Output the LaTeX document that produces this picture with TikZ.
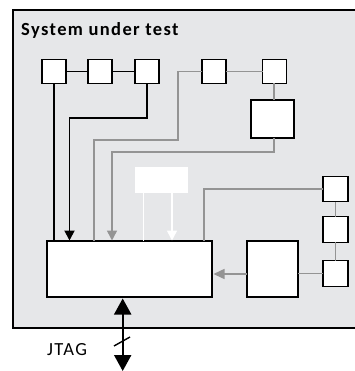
\documentclass[tikz,border=0pt]{standalone}
\usepackage{fontspec}
\setmainfont{Carlito}
\newfontfamily\lblfont[LetterSpace=7.5]{Carlito}
\usetikzlibrary{arrows.meta}
\definecolor{bgfill}{RGB}{230,231,233}
\definecolor{wire}{RGB}{148,148,148}
\tikzset{
  blk/.style={draw=black, line width=1.1pt, fill=white, inner sep=0pt, outer sep=0pt},
  sq/.style={blk, minimum width=24pt, minimum height=23.5pt},
  bline/.style={draw=black, line width=1.9pt},
  gline/.style={draw=wire, line width=1.5pt},
  wline/.style={draw=white, line width=1.5pt},
  tip/.style={-{Triangle[width=10pt,length=10pt]}},
  lbl/.style={anchor=base west, inner sep=0pt},
}
\begin{document}
\begin{tikzpicture}[x=1pt,y=-1pt]
\useasboundingbox (0,0) rectangle (354,371);
% outer system box
\path[draw=black, line width=1.1pt, fill=bgfill] (13,10) rectangle (362,328);
\node[lbl, font=\lblfont\bfseries\fontsize{18.5}{20}\selectfont] (title) at (21,36) {System under test};
% top row
\node[sq] (b1) at (54,71.5) {};
\node[sq] (b2) at (100,71.5) {};
\node[sq] (b3) at (147,71.5) {};
\node[sq] (b4) at (214,71.5) {};
\node[sq] (b5) at (274.5,71.5) {};
\node[blk, minimum width=43pt, minimum height=38pt] (b6) at (272.5,119) {};
% right column
\node[sq, minimum width=25pt, minimum height=25.5pt] (rA) at (335.5,189) {};
\node[sq, minimum width=25pt, minimum height=25.5pt] (rB) at (335.5,229.5) {};
\node[sq, minimum width=25pt, minimum height=25.5pt] (rC) at (335.5,273.5) {};
% middle right box
\node[blk, minimum width=51pt, minimum height=56pt] (M) at (272.5,269) {};
% main box
\node[blk, minimum width=165pt, minimum height=56pt] (main) at (129.5,269) {};
% white box
\node[fill=white, draw=none, minimum width=53pt, minimum height=26pt, inner sep=0pt] (W) at (161.5,180) {};
% connectors: black
\draw[bline] (b1) -- (b2);
\draw[bline] (b2) -- (b3);
\draw[bline] (b1.south) -- (b1.south |- main.north);
\draw[bline, tip] (b3.south) |- (69.5,118) -- (69.5,240.5);
% connectors: gray
\draw[gline] (b4) -- (b5);
\draw[gline] (b5.south -| 274,0) -- (274,100);
\draw[gline] (b4.west) -| (178,140) -| (94,240.5);
\draw[gline, tip] (274,138) |- (112,152) -- (112,240.5);
\draw[gline] (rA.west) -| (204,240.5);
\draw[gline] (rA) -- (rB);
\draw[gline] (rB) -- (rC);
\draw[gline] (rC.west) -- (rC.west -| M.east);
\draw[gline, -{Triangle[width=10pt,length=11pt]}] (M.west |- 0,274) -- (213.5,274);
% connectors: white
\draw[wline] (143.5,193) -- (143.5,240.5);
\draw[wline, tip] (172,193) -- (172,240.5);
% JTAG
\coordinate (jend) at (122.7,371);
\draw[draw=black, line width=2pt, {Triangle[width=17pt,length=16pt]}-{Triangle[width=17pt,length=16pt]}] (122.7,298.5) -- (jend);
\draw[draw=black, line width=1.4pt] (114,346) -- (130,337);
\node[lbl, font=\lblfont\fontsize{18.5}{20}\selectfont] (jtag) at (47,355) {JTAG};
\end{tikzpicture}
\end{document}
